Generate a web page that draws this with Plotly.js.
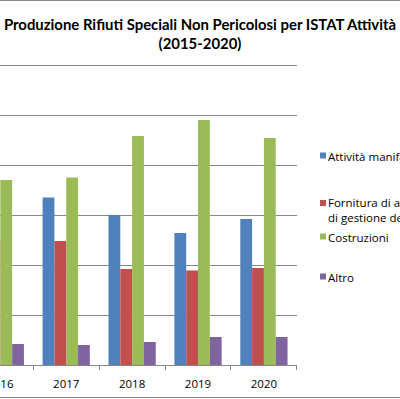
<!DOCTYPE html>
<html>
<head>
<meta charset="utf-8">
<script src="https://cdn.plot.ly/plotly-3.0.1.min.js"></script>
<style>
html,body{margin:0;padding:0;background:#fff;}
#chart{width:400px;height:399px;}
.legendtext,.legend2text,.legend3text,.legend4text{transform:translateX(-16px);}
.legendpoints path{transform:translate(19px,0px) scale(0.5);}
</style>
</head>
<body>
<div id="chart"></div>
<script>
// Data (units: one gridline step = 10)
const years = ["2016", "2017", "2018", "2019", "2020"];
const seriesNames = [
  "Attività manifatturiere",
  "Fornitura di acqua; reti fognarie, attività<br>di gestione dei rifiuti e risanamento",
  "Costruzioni",
  "Altro"
];
const manifatturiere = [33.0, 33.5, 30.0, 26.4, 29.2];
const fornituraAcqua = [24.8, 24.8, 19.2, 18.9, 19.4];
const costruzioni    = [37.0, 37.5, 45.8, 49.0, 45.4];
const altro          = [4.2, 4.0, 4.6, 5.6, 5.6];

const colors = ["#4F81BD", "#C0504D", "#9BBB59", "#8064A2"];
const values = [manifatturiere, fornituraAcqua, costruzioni, altro];
const legendIds = ["legend", "legend2", "legend3", "legend4"];

const traces = values.map((v, i) => ({
  type: "bar",
  name: seriesNames[i],
  x: years,
  y: v,
  marker: {color: colors[i], line: {width: 0}},
  legend: legendIds[i],
  hoverinfo: "x+y+name"
}));

const gray = "#868686";
const legendFont = {family: "Open Sans, sans-serif", size: 11.5, color: "#000"};
const legendY = [156, 189, 237, 277];
function mkLegend(yPx, anchor) {
  return {
    xref: "container", yref: "container",
    x: 304 / 400, xanchor: "left",
    y: 1 - yPx / 399, yanchor: anchor,
    font: legendFont, bgcolor: "rgba(0,0,0,0)", borderwidth: 0,
    valign: "top", itemclick: false, itemdoubleclick: false
  };
}

const layout = {
  width: 400, height: 399,
  margin: {l: 0, r: 103, t: 63, b: 34, pad: 0},
  paper_bgcolor: "#fff", plot_bgcolor: "#fff",
  title: {
    text: "Produzione Rifiuti Speciali Non Pericolosi per ISTAT Attività<br>(2015-2020)",
    font: {family: "Lato, sans-serif", size: 14.9, color: "#000", weight: "bold"},
    xref: "container", x: 0.5, xanchor: "center",
    yref: "container", y: 1 - 30 / 399, yanchor: "middle"
  },
  barmode: "group",
  bargap: 0.283,
  bargroupgap: 0,
  xaxis: {
    type: "category",
    range: [-0.005, 4.502],
    showline: true, linecolor: gray, linewidth: 1,
    ticks: "outside", tickson: "boundaries", ticklen: 4, tickcolor: gray, tickwidth: 1,
    ticklabelstandoff: 8,
    showgrid: false, zeroline: false,
    tickfont: {family: "Open Sans, sans-serif", size: 11.5, color: "#000"},
    fixedrange: true
  },
  yaxis: {
    range: [0, 60.4],
    dtick: 10,
    showticklabels: false, ticks: "",
    showgrid: true, gridcolor: gray, gridwidth: 1,
    zeroline: false, showline: false,
    fixedrange: true
  },
  legend: mkLegend(legendY[0], "middle"),
  legend2: mkLegend(legendY[1], "top"),
  legend3: mkLegend(legendY[2], "middle"),
  legend4: mkLegend(legendY[3], "middle"),
  shapes: [
    {type: "line", xref: "paper", yref: "paper", x0: -1, x1: 2, y0: (365 - 0.5) / 302, y1: (365 - 0.5) / 302, line: {color: gray, width: 1}},
    {type: "line", xref: "paper", yref: "paper", x0: -1, x1: 2, y0: (365 - 397.5) / 302, y1: (365 - 397.5) / 302, line: {color: gray, width: 1}}
  ],
  showlegend: true
};

Plotly.newPlot("chart", traces, layout, {displayModeBar: false, staticPlot: false});
</script>
</body>
</html>
